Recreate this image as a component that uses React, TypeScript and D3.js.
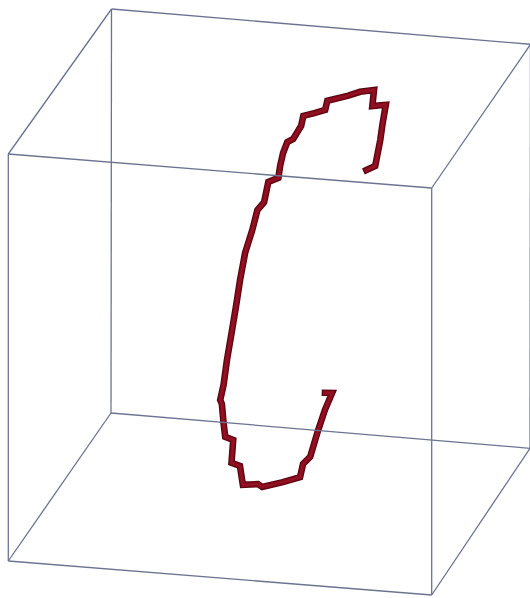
import React from "react";
import * as d3 from "d3";

// Walk coordinates (data units, each axis spans 0..10)
const pathX = [7.04, 7.25, 7.37, 7.42, 7.5, 7.18, 7.22, 6.89, 6.61, 6.11, 6.06, 5.8, 5.54, 5.49, 5.3, 5.16, 5.06, 4.99, 4.95, 4.71, 4.61, 4.45, 4.33, 4.16, 4.04, 3.95, 3.84, 3.73, 3.65, 3.57, 3.61, 3.65, 3.69, 3.88, 3.84, 4.04, 4.11, 4.47, 4.57, 5.06, 5.47, 5.54, 5.71, 5.9, 6.06, 6.23, 6.06];
const pathY = [6, 6, 6, 6, 6, 6, 6, 6, 6, 6, 6, 6, 6, 6, 6, 6, 6, 6, 6, 6, 6, 6, 6, 6, 6, 6, 6, 6, 6, 6, 6, 6, 6, 6, 6, 6, 6, 6, 6, 6, 6, 6, 6, 6, 6, 6, 6];
const pathZ = [8.06, 8.18, 8.83, 9.21, 9.71, 9.65, 10.05, 9.98, 9.86, 9.69, 9.46, 9.36, 9.27, 9.02, 8.68, 8.59, 8.31, 7.99, 7.69, 7.57, 7.06, 6.85, 6.35, 5.77, 5.09, 4.47, 3.77, 3.09, 2.47, 2.09, 1.99, 1.53, 1.19, 1.13, 0.56, 0.5, 0.04, 0.09, 0.03, 0.19, 0.35, 0.68, 0.87, 1.55, 2.06, 2.49, 2.48];

const xDomain = [0, 10];
const yDomain = [0, 10];
const zDomain = [0, 10];

const W = 530;
const H = 598;

// View: screen vectors of the unit axes (front face and back face)
const origin = [8.3, 561];
const exFront = [423.4, 34];
const exBack = [419, 35.3];
const eyVec = [102.7, -148];
const ezFront = [0, -407];
const ezBack = [0.5, -404];

const sx = d3.scaleLinear().domain(xDomain).range([0, 1]);
const sy = d3.scaleLinear().domain(yDomain).range([0, 1]);
const sz = d3.scaleLinear().domain(zDomain).range([0, 1]);

function project(x: number, y: number, z: number): [number, number] {
  const u = sx(x);
  const v = sy(y);
  const w = sz(z);
  const ex = [d3.interpolateNumber(exFront[0], exBack[0])(v), d3.interpolateNumber(exFront[1], exBack[1])(v)];
  const ez = [d3.interpolateNumber(ezFront[0], ezBack[0])(v), d3.interpolateNumber(ezFront[1], ezBack[1])(v)];
  return [
    origin[0] + v * eyVec[0] + u * ex[0] + w * ez[0],
    origin[1] + v * eyVec[1] + u * ex[1] + w * ez[1],
  ];
}

export default function App() {
  const [x0, x1] = xDomain;
  const [y0, y1] = yDomain;
  const [z0, z1] = zDomain;
  const corners: [number, number, number][] = [
    [x0, y0, z0], [x1, y0, z0], [x1, y1, z0], [x0, y1, z0],
    [x0, y0, z1], [x1, y0, z1], [x1, y1, z1], [x0, y1, z1],
  ];
  const edges: [number, number][] = [
    [0, 1], [1, 2], [2, 3], [3, 0],
    [4, 5], [5, 6], [6, 7], [7, 4],
    [0, 4], [1, 5], [2, 6], [3, 7],
  ];
  const pts = pathX.map((x, i) => project(x, pathY[i], pathZ[i]));
  const line = d3.line<[number, number]>().x((d) => d[0]).y((d) => d[1]);
  const d = line(pts) || "";

  return (
    <svg
      width={W}
      height={H}
      style={{ position: "absolute", left: 0, top: 0, background: "#ffffff" }}
    >
      <g>
        <path d={d} fill="none" stroke="#58040f" strokeWidth={6.6} strokeLinejoin="miter" strokeLinecap="square" />
        <path d={d} fill="none" stroke="#870c1d" strokeWidth={4.4} strokeLinejoin="miter" strokeLinecap="square" />
        <path d={d} fill="none" stroke="#9e1528" strokeWidth={1.5} strokeLinejoin="round" strokeLinecap="butt" opacity={0.7} />
      </g>
      <g stroke="#6c7390" strokeWidth={1.3} fill="none">
        {edges.map(([a, b], i) => {
          const p = project(...corners[a]);
          const q = project(...corners[b]);
          return <line key={i} x1={p[0]} y1={p[1]} x2={q[0]} y2={q[1]} />;
        })}
      </g>
    </svg>
  );
}
